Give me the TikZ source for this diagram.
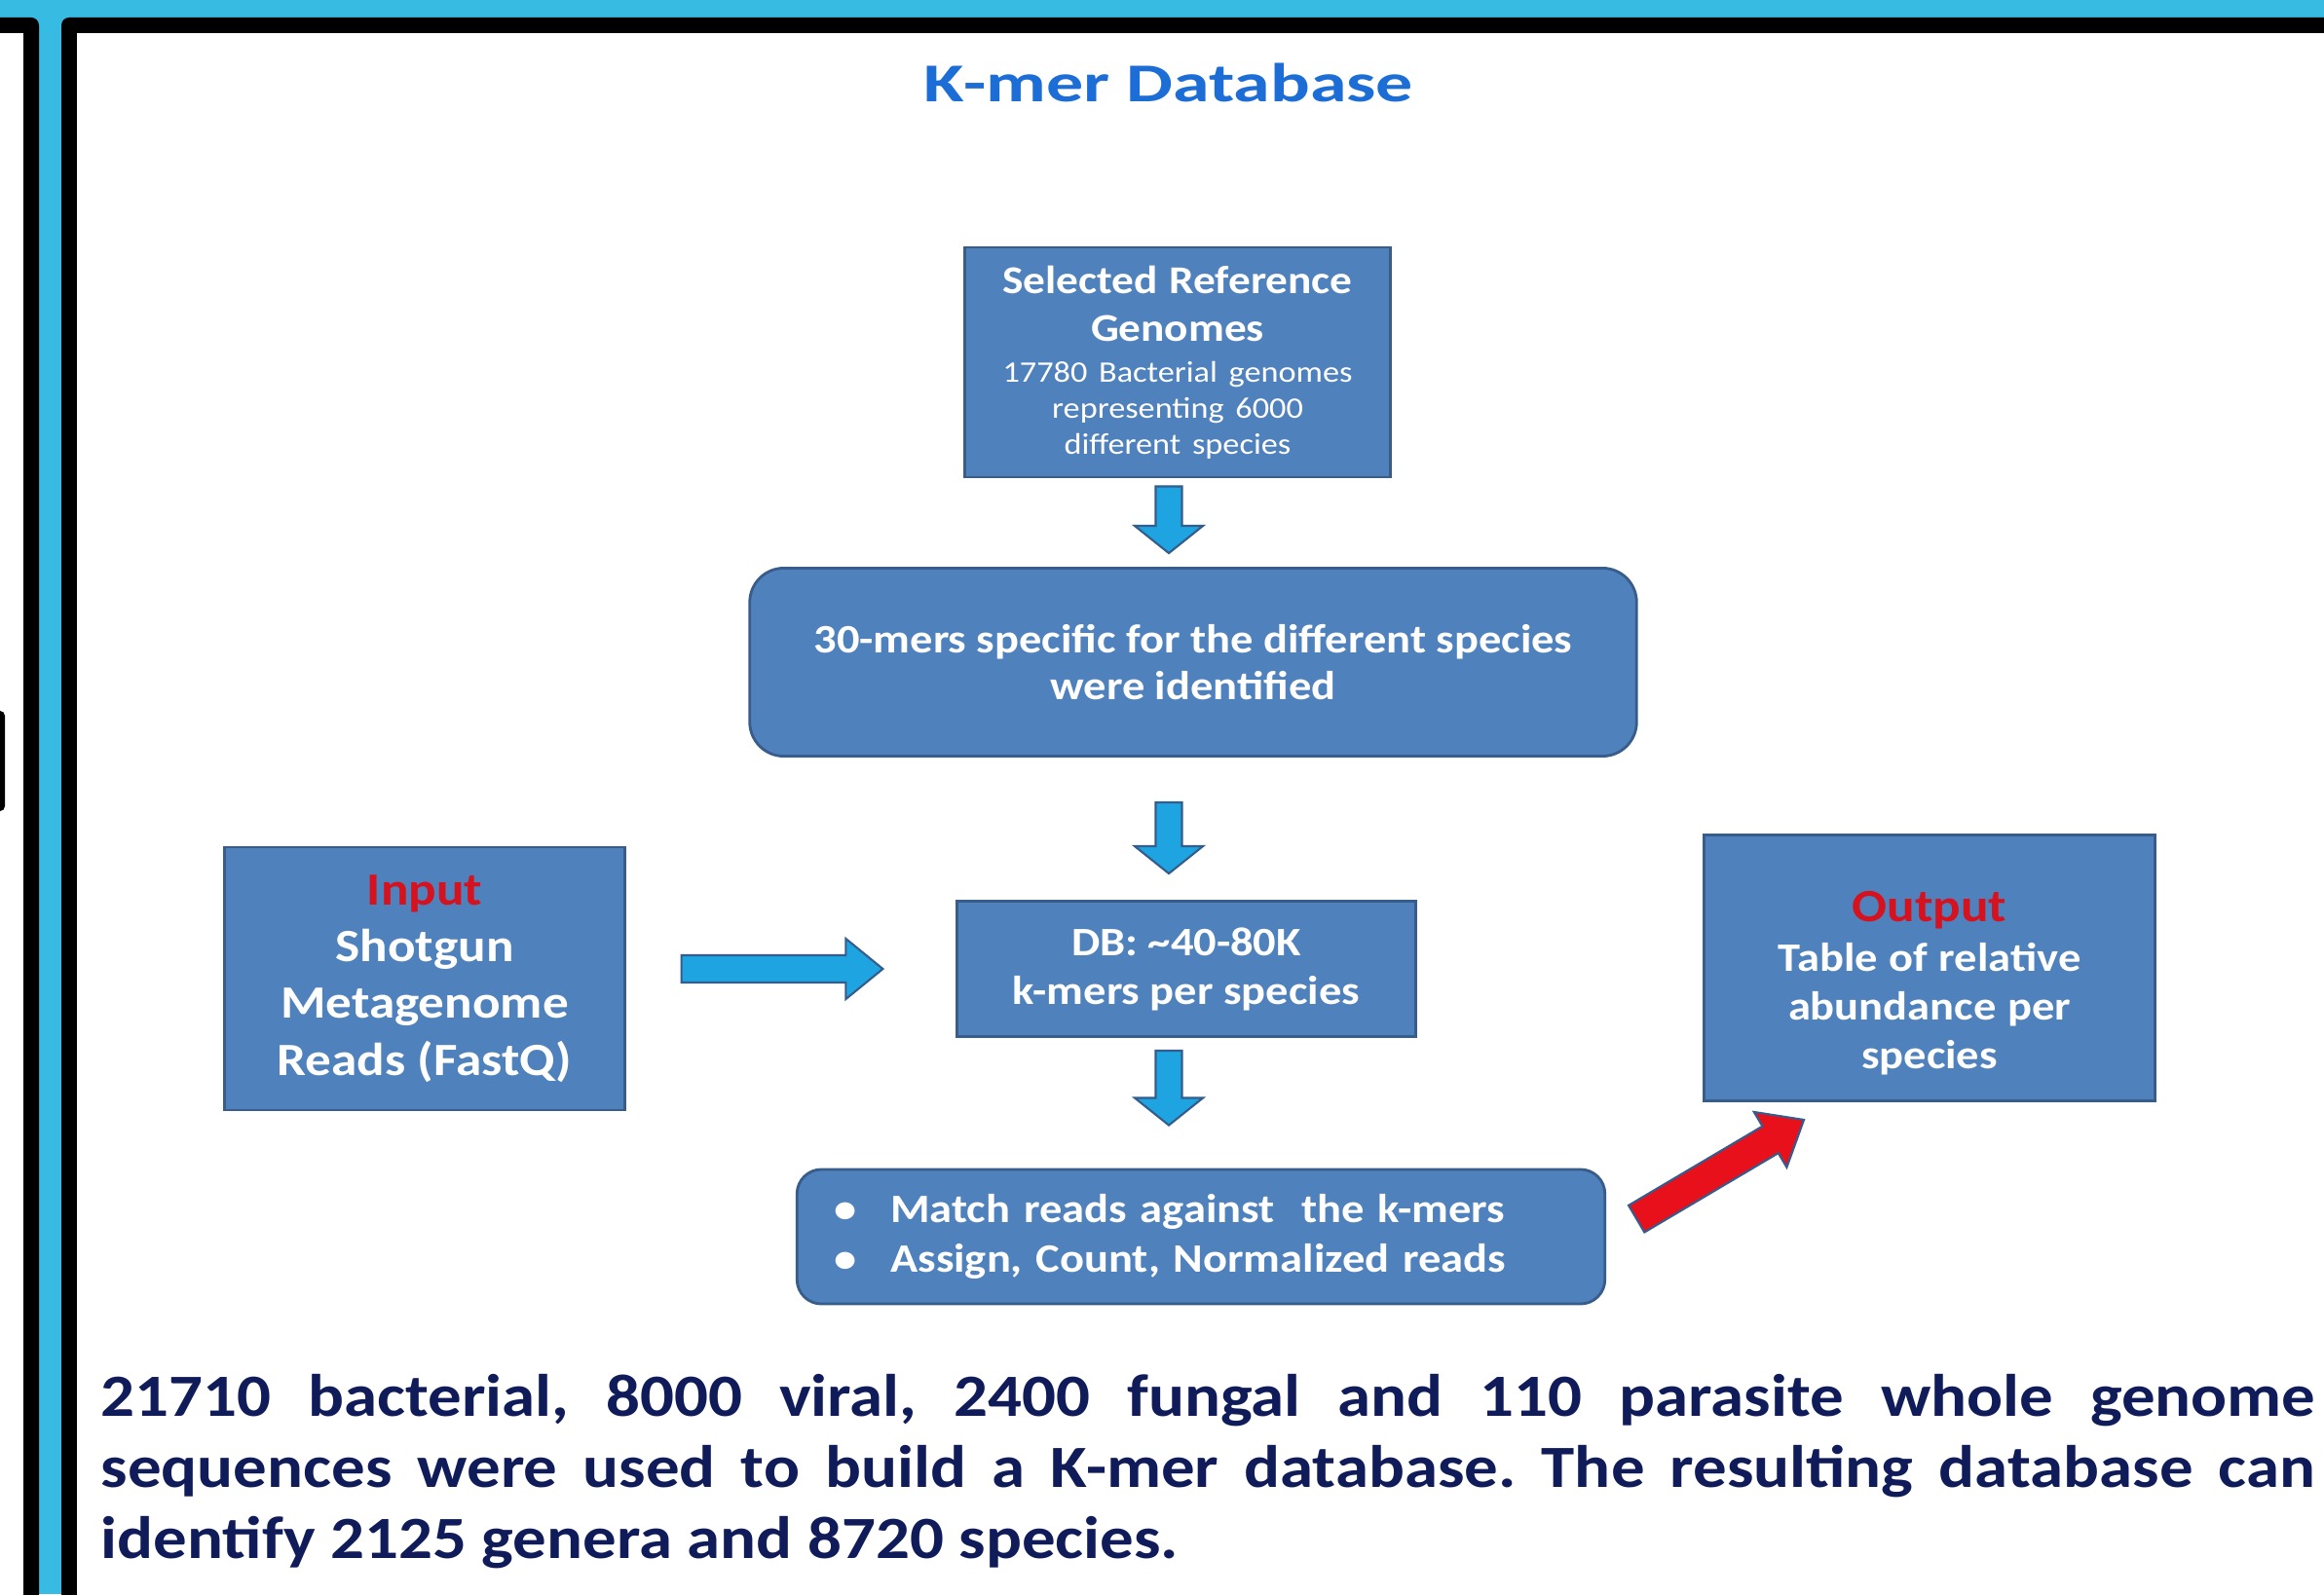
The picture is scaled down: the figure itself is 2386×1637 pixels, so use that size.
\documentclass[tikz,border=0pt]{standalone}
\usepackage{fontspec}
\setmainfont{Carlito}[FakeStretch=1.12]
\newfontfamily\titlefont{Carlito}[FakeStretch=1.35]
\usepackage{xcolor}
\usepackage{tikz}
\usetikzlibrary{calc, positioning}

\definecolor{frameblue}{RGB}{55,187,226}
\definecolor{boxblue}{RGB}{79,129,189}
\definecolor{boxedge}{RGB}{56,93,138}
\definecolor{arrowblue}{RGB}{30,165,225}
\definecolor{arrowedge}{RGB}{52,92,140}
\definecolor{arrowred}{RGB}{232,16,26}
\definecolor{labelred}{RGB}{214,18,30}
\definecolor{titleblue}{RGB}{28,110,214}
\definecolor{textnavy}{RGB}{16,28,90}

\tikzset{
  kmerbox/.style={
    rectangle, draw=boxedge, fill=boxblue, line width=0.8pt,
    text=white, align=center, font=\bfseries
  },
  kmerround/.style={kmerbox, rounded corners=0.35cm},
  titletext/.style={
    font={\titlefont\fontsize{16}{19}\selectfont\bfseries}, text=titleblue
  },
  summarytext/.style={
    text width=22.72cm, align=justify, inner sep=0pt, text=textnavy,
    font={\fontsize{17.5}{20.8}\selectfont\bfseries}
  },
  % block arrow: half shaft, half head, head length, gap start, gap end
  fatarrow/.style n args={5}{
    to path={
      let \p1=(\tikztostart), \p2=(\tikztotarget),
          \n1={atan2(\y2-\y1,\x2-\x1)}, \n2={\n1+90}, \n3={\n1-90},
          \p3=($(\p1)+(\n1:#4)$), \p4=($(\p2)+(\n1:-#5)$),
          \p5=($(\p4)+(\n1:-#3)$) in
      ($(\p3)+(\n2:#1)$) -- ($(\p5)+(\n2:#1)$) -- ($(\p5)+(\n2:#2)$)
      -- (\p4) -- ($(\p5)+(\n3:#2)$) -- ($(\p5)+(\n3:#1)$)
      -- ($(\p3)+(\n3:#1)$) -- cycle
    }
  },
  bluefat/.style={draw=arrowedge, fill=arrowblue, line width=0.6pt},
  redfat/.style={draw=arrowedge, fill=arrowred, line width=0.6pt},
}

\begin{document}
\begin{tikzpicture}[x=0.01cm, y=-0.01cm]
  \useasboundingbox (0,0) rectangle (2386,1637);
  \clip (0,0) rectangle (2386,1637);

  % ── frame ──
  \fill[frameblue] (0,0) rectangle (2386,1637);
  \fill[black, rounded corners=0.08cm] (-100,18) rectangle (40,1800);
  \fill[white] (-100,34) rectangle (24,1800);
  \fill[black, rounded corners=0.05cm] (-30,730) rectangle (5,833);
  \fill[black, rounded corners=0.08cm] (63,18) rectangle (2600,1800);
  \fill[white] (79,34) rectangle (2600,1800);

  % ── title ──
  \node[titletext] (title) at (1200,85) {K-mer Database};

  % ── database pipeline ──
  \node[kmerbox, minimum width=4.36cm, minimum height=2.36cm, text width=4.0cm]
    (refgen) at (1209,372)
    {{\fontsize{11.5}{13.9}\selectfont Selected Reference\\Genomes\par}
     {\vskip1.7pt\fontsize{8.7}{10.4}\selectfont\mdseries 17780 Bacterial genomes\\
      representing 6000\\different species\par}};
  \node[kmerround, minimum width=9.10cm, minimum height=1.93cm,
    font={\fontsize{11.8}{13.9}\selectfont\bfseries}]
    (specific) at (1225,680)
    {30-mers specific for the different species\\were identified};
  \node[kmerbox, minimum width=4.70cm, minimum height=1.39cm,
    font={\fontsize{11.8}{14.2}\selectfont\bfseries}]
    (kmerdb) at (1218,995)
    {DB: \textasciitilde40-80K\\k-mers per species};
  \node[kmerround, rounded corners=0.25cm, minimum height=1.38cm,
    text width=7.53cm, inner xsep=0.38cm, align=left,
    font={\fontsize{11.8}{14.3}\selectfont\bfseries}]
    (matching) at (1233,1270)
    {\makebox[16.5pt][l]{\textbullet}Match reads against\ \ the k-mers\\
     \makebox[16.5pt][l]{\textbullet}Assign, Count, Normalized reads};

  % ── input and output ──
  \node[kmerbox, minimum width=4.10cm, minimum height=2.70cm,
    font={\fontsize{13.5}{16.6}\selectfont\bfseries}]
    (reads) at (436,1005)
    {{\color{labelred}Input}\\Shotgun\\Metagenome\\Reads (FastQ)};
  \node[kmerbox, minimum width=4.63cm, minimum height=2.73cm, text width=4.0cm]
    (abundance) at (1981,994)
    {{\vskip2pt\fontsize{13.5}{16}\selectfont\color{labelred}Output\par}
     {\fontsize{11.8}{14.3}\selectfont Table of relative\\abundance per\\species\par}};

  % ── block arrows ──
  \draw[bluefat, fatarrow={0.135cm}{0.35cm}{0.28cm}{0.08cm}{0.14cm}]
    (refgen.south -| title) to (specific.north -| title);
  \draw[bluefat, fatarrow={0.135cm}{0.35cm}{0.28cm}{0.46cm}{0.27cm}]
    (specific.south -| title) to (kmerdb.north -| title);
  \draw[bluefat, fatarrow={0.135cm}{0.35cm}{0.28cm}{0.13cm}{0.44cm}]
    (kmerdb.south -| title) to (matching.north -| title);
  \draw[bluefat, fatarrow={0.14cm}{0.31cm}{0.38cm}{0.57cm}{0.75cm}]
    (reads.east |- kmerdb.west) to (kmerdb.west);
  \draw[redfat, fatarrow={0.16cm}{0.33cm}{0.40cm}{0.36cm}{0cm}]
    (matching.east) to ([xshift=1.04cm, yshift=-0.18cm]abundance.south west);

  % ── summary ──
  \node[summarytext, anchor=west] (summary) at (103,1511)
    {\frenchspacing\hyphenpenalty=10000 21710 bacterial, 8000 viral, 2400 fungal and 110 parasite whole genome\linebreak
     sequences were used to build a K-mer database. The resulting database can\linebreak
     identify 2125 genera and 8720 species.};
\end{tikzpicture}
\end{document}
